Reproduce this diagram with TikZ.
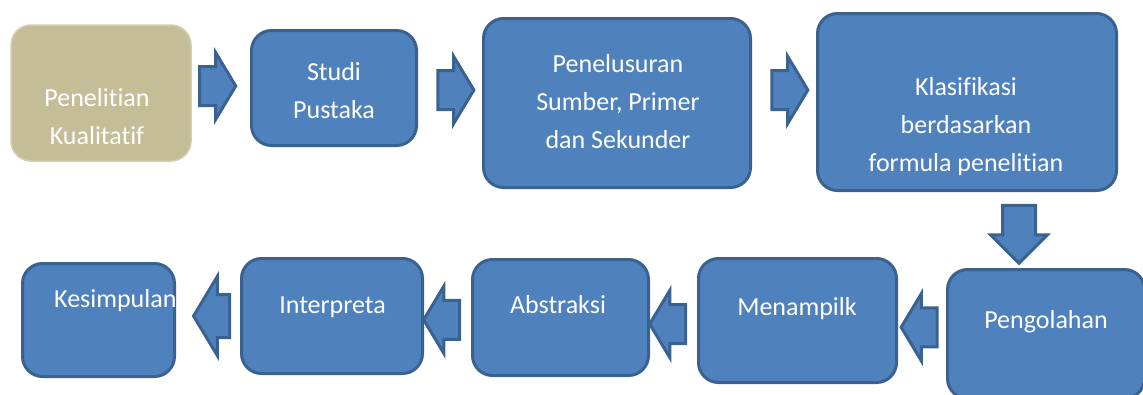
\documentclass[tikz,border=0pt]{standalone}
\usepackage{fontspec}
\setmainfont{Carlito}[Ligatures=NoCommon]
\usepackage{tikz}
\usetikzlibrary{calc,shapes.arrows}

\definecolor{boxblue}{HTML}{4F81BD}
\definecolor{boxedge}{HTML}{3A6291}
\definecolor{boxtan}{HTML}{C4BD97}

\tikzset{
	bluebox/.style={draw=boxedge, fill=boxblue, line width=3pt, rounded corners=20pt},
	tanbox/.style={draw=boxtan!75!white, fill=boxtan, line width=1.5pt, rounded corners=20pt},
	boxtext/.style={text=white, align=center, inner sep=0pt, font=\fontsize{26}{38}\selectfont},
	blockarrow/.style={single arrow, draw=boxedge, fill=boxblue, line width=3pt,
		inner xsep=0pt, inner ysep=18pt, minimum height=36pt, single arrow head extend=14pt,
		single arrow tip angle=118},
	rarrow/.style={blockarrow},
	larrow/.style={blockarrow, shape border rotate=180},
	darrow/.style={blockarrow, shape border rotate=270, inner xsep=15pt, inner ysep=0pt,
		minimum height=58pt, single arrow head extend=12pt, single arrow tip angle=90}
}

\begin{document}
\begin{tikzpicture}[x=1pt, y=-1pt]
					\clip (0,0) rectangle (1143,394);
					\fill[white] (0,0) rectangle (1143,394);

					% upper row
					\node[tanbox, minimum width=180pt, minimum height=136pt] (pk) at (101,93) {};
					\node[bluebox, minimum width=165pt, minimum height=115pt] (sp) at (334,88) {};
					\node[bluebox, minimum width=267pt, minimum height=169pt] (ps) at (617,103) {};
					\node[bluebox, minimum width=299pt, minimum height=177pt] (kb) at (967,102) {};

					\node[boxtext] (pkt) at (97,117) {Penelitian\\Kualitatif};
					\node[boxtext] (spt) at (334,91) {Studi\\Pustaka};
					\node[boxtext] (pst) at (618,102) {Penelusuran\\Sumber, Primer\\dan Sekunder};
					\node[boxtext] (kbt) at (966,127) {Klasifikasi\\berdasarkan\\formula penelitian};

					\node[rarrow, xshift=-9pt, yshift=4.5pt] (a1) at ($(pk.east)!.5!(sp.west)$) {};
					\node[rarrow, yshift=5.5pt] (a2) at ($(sp.east)!.5!(ps.west)$) {};
					\node[rarrow, yshift=12.5pt] (a3) at ($(ps.east)!.5!(kb.west)$) {};

					% lower row
					\node[bluebox, minimum width=197pt, minimum height=129pt] (pg) at (1046,334) {};
					\node[bluebox, minimum width=198pt, minimum height=124pt] (mn) at (797.5,320.5) {};
					\node[bluebox, minimum width=176pt, minimum height=116pt] (ab) at (560.5,317.5) {};
					\node[bluebox, minimum width=181pt, minimum height=115pt] (ip) at (332,316) {};
					\node[bluebox, minimum width=152pt, minimum height=113pt] (ks) at (98.5,320) {};

					\node[darrow, xshift=12.5pt, yshift=4pt] (d1) at ($(kb.south)!.5!(pg.north)$) {};

					\node[boxtext, anchor=base] (pgt) at (1046,328) {Pengolahan};
					\node[boxtext, anchor=base] (mnt) at (797,315) {Menampilk};
					\node[boxtext, anchor=base] (abt) at (558,313) {Abstraksi};
					\node[boxtext, anchor=base] (ipt) at (332.5,313) {Interpreta};
					\node[boxtext, anchor=base west] (kst) at (54,307) {Kesimpulan};

					\node[larrow, xshift=3pt] (b1) at ($(pg.west)!.5!(mn.east)$) {};
					\node[larrow, yshift=-5pt] (b2) at ($(mn.west)!.5!(ab.east)$) {};
					\node[larrow, yshift=-3pt] (b3) at ($(ab.west)!.5!(ip.east)$) {};
					\node[larrow, xshift=10pt, yshift=2pt, inner ysep=20pt, single arrow head extend=18pt] (b4) at ($(ip.west)!.5!(ks.east)$) {};
				\end{tikzpicture}
\end{document}
